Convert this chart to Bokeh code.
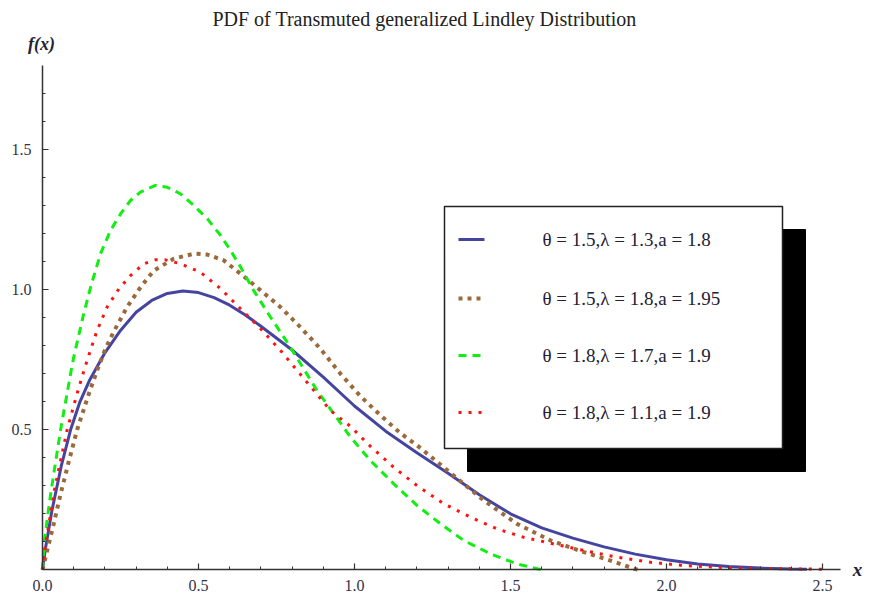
from bokeh.plotting import figure
from bokeh.models import Range1d, FixedTicker, Label
from bokeh.embed import file_html
from bokeh.resources import INLINE

# ---------------- data ----------------
blue_x = [0, 0.01, 0.03, 0.06, 0.09, 0.12, 0.15, 0.2, 0.25, 0.3, 0.35, 0.4, 0.45, 0.5, 0.55,
          0.6, 0.65, 0.7, 0.8, 0.9, 1.0, 1.1, 1.2, 1.3, 1.4, 1.5, 1.6, 1.7, 1.8, 1.9, 2.0,
          2.1, 2.2, 2.3, 2.4, 2.45]
blue_y = [0, 0.08, 0.21, 0.37, 0.5, 0.6, 0.675, 0.775, 0.855, 0.92, 0.962, 0.987, 0.996, 0.99,
          0.972, 0.945, 0.91, 0.87, 0.785, 0.688, 0.585, 0.495, 0.418, 0.345, 0.268, 0.2, 0.15,
          0.113, 0.082, 0.056, 0.036, 0.021, 0.012, 0.006, 0.003, 0.002]

brown_x = [0, 0.015, 0.036, 0.058, 0.085, 0.111, 0.148, 0.175, 0.202, 0.228, 0.271, 0.314, 0.357,
           0.421, 0.485, 0.528, 0.581, 0.635, 0.699, 0.763, 0.827, 0.891, 0.955, 1.019, 1.083,
           1.147, 1.2, 1.308, 1.414, 1.521, 1.628, 1.735, 1.821, 1.895, 1.91]
brown_y = [0, 0.069, 0.164, 0.271, 0.39, 0.5, 0.627, 0.712, 0.79, 0.85, 0.938, 1.009, 1.069,
           1.111, 1.129, 1.126, 1.105, 1.057, 0.998, 0.938, 0.866, 0.789, 0.70, 0.62, 0.552,
           0.488, 0.445, 0.346, 0.248, 0.164, 0.105, 0.063, 0.033, 0.004, 0]

green_x = [0, 0.005, 0.015, 0.026, 0.042, 0.058, 0.074, 0.09, 0.1, 0.132, 0.154, 0.186, 0.218,
           0.25, 0.282, 0.314, 0.362, 0.40, 0.442, 0.485, 0.528, 0.571, 0.603, 0.635, 0.677,
           0.731, 0.784, 0.827, 0.88, 0.934, 0.987, 1.051, 1.126, 1.2, 1.276, 1.35, 1.436,
           1.521, 1.585, 1.6]
green_y = [0, 0.09, 0.18, 0.27, 0.385, 0.5, 0.6, 0.70, 0.759, 0.914, 1.009, 1.129, 1.212,
           1.271, 1.319, 1.349, 1.373, 1.366, 1.343, 1.301, 1.254, 1.194, 1.14, 1.081, 0.997,
           0.902, 0.813, 0.736, 0.64, 0.557, 0.474, 0.39, 0.307, 0.23, 0.164, 0.105, 0.057,
           0.021, 0.004, 0]

red_x = [0, 0.01, 0.026, 0.038, 0.058, 0.079, 0.106, 0.127, 0.148, 0.175, 0.207, 0.245, 0.282,
         0.325, 0.362, 0.394, 0.442, 0.506, 0.571, 0.635, 0.699, 0.763, 0.816, 0.87, 0.923,
         0.987, 1.051, 1.126, 1.2, 1.286, 1.372, 1.458, 1.543, 1.628, 1.735, 1.842, 1.949,
         2.055, 2.162, 2.27, 2.375, 2.5]
red_y = [0, 0.093, 0.2, 0.283, 0.39, 0.5, 0.61, 0.69, 0.765, 0.855, 0.938, 1.004, 1.051,
         1.093, 1.107, 1.107, 1.093, 1.063, 1.004, 0.932, 0.861, 0.783, 0.712, 0.64, 0.569,
         0.512, 0.441, 0.366, 0.301, 0.236, 0.188, 0.146, 0.116, 0.095, 0.069, 0.045, 0.027,
         0.015, 0.009, 0.006, 0.004, 0.002]

legend_labels = ["\u03b8 = 1.5,\u03bb = 1.3,a = 1.8",
                 "\u03b8 = 1.5,\u03bb = 1.8,a = 1.95",
                 "\u03b8 = 1.8,\u03bb = 1.7,a = 1.9",
                 "\u03b8 = 1.8,\u03bb = 1.1,a = 1.9"]
x_ticks = [0.0, 0.5, 1.0, 1.5, 2.0, 2.5]
y_ticks = [0.5, 1.0, 1.5]
title_text = "PDF of Transmuted generalized Lindley Distribution"

# ---------------- layout helpers (page pixels -> data) ----------------
W, H = 869, 601
X0, Y0, SX, SY = 42.0, 569.3, 312.0, 280.0
XMAX = (840 - X0) / SX
YMAX = (Y0 - 65) / SY


def dx(px):
    return (px - X0) / SX


def dy(py):
    return (Y0 - py) / SY


p = figure(width=W, height=H, output_backend="svg", toolbar_location=None,
           x_range=Range1d(dx(0), dx(W)), y_range=Range1d(dy(H), dy(0)))
p.title.visible = False
p.min_border = 0
p.min_border_left = 0
p.min_border_right = 0
p.min_border_top = 0
p.min_border_bottom = 0
p.outline_line_color = None
p.xgrid.visible = False
p.ygrid.visible = False
p.background_fill_color = "white"
p.border_fill_color = "white"

minor_x = [round(0.1 * i, 2) for i in range(0, 26)]
minor_y = [round(0.1 * i, 2) for i in range(0, 18)]
p.xaxis.ticker = FixedTicker(ticks=x_ticks, minor_ticks=minor_x)
p.yaxis.ticker = FixedTicker(ticks=y_ticks, minor_ticks=minor_y)
p.xaxis.fixed_location = 0
p.yaxis.fixed_location = 0
p.xaxis.bounds = (0, XMAX)
p.yaxis.bounds = (0, YMAX)
for ax in (p.xaxis, p.yaxis):
    ax.axis_line_color = "#333333"
    ax.axis_line_width = 1.5
    ax.major_tick_line_color = "#333333"
    ax.minor_tick_line_color = "#333333"
    ax.major_tick_line_width = 1.2
    ax.minor_tick_line_width = 1
    ax.major_tick_in = 6
    ax.major_tick_out = 0
    ax.minor_tick_in = 3
    ax.minor_tick_out = 0
    ax.major_label_text_font = "Liberation Serif"
    ax.major_label_text_font_size = "16px"
    ax.major_label_text_color = "#333344"
p.xaxis.major_label_standoff = 10
p.yaxis.major_label_standoff = 11
p.xaxis.major_label_overrides = {t: f"{t:.1f}" for t in x_ticks}
p.yaxis.major_label_overrides = {t: f"{t:.1f}" for t in y_ticks}

# ---------------- curves ----------------
c_blue, c_brown, c_green, c_red = "#45459f", "#9b6a3a", "#11ee11", "#ff1111"
p.line(blue_x, blue_y, line_color=c_blue, line_width=3)
p.line(brown_x, brown_y, line_color=c_brown, line_width=4, line_dash="4 5")
p.line(green_x, green_y, line_color=c_green, line_width=3, line_dash="8 6")
p.line(red_x, red_y, line_color=c_red, line_width=3, line_dash="3 7")

# ---------------- legend (drawn by hand, with drop shadow) ----------------
p.quad(left=[dx(467)], right=[dx(805)], top=[dy(229)], bottom=[dy(471)],
       fill_color="black", line_color="black")
p.quad(left=[dx(444)], right=[dx(782)], top=[dy(206)], bottom=[dy(448)],
       fill_color="white", line_color="#222222", line_width=1.5)
row_py = [239, 298, 355, 412]
styles = [(c_blue, 3, "solid"), (c_brown, 4, "4 5"), (c_green, 3, "8 6"), (c_red, 3, "3 7")]
for py, (col, lw, dash), lab in zip(row_py, styles, legend_labels):
    p.line([dx(458), dx(484)], [dy(py), dy(py)], line_color=col, line_width=lw, line_dash=dash)
    p.add_layout(Label(x=dx(542), y=dy(py), text=lab, text_font="Liberation Serif",
                       text_font_size="19px", text_baseline="middle", text_align="left",
                       text_color="#222233"))

# ---------------- texts ----------------
p.add_layout(Label(x=dx(424), y=dy(18), text=title_text, text_font="Liberation Serif",
                   text_font_size="20px", text_align="center", text_baseline="middle",
                   text_color="#222222"))
p.add_layout(Label(x=dx(41), y=dy(43), text="f(x)", text_font="Liberation Serif",
                   text_font_size="18px", text_font_style="bold italic", text_align="center",
                   text_baseline="middle", text_color="#222233"))
p.add_layout(Label(x=dx(857), y=dy(569), text="x", text_font="Liberation Serif",
                   text_font_size="19px", text_font_style="bold italic", text_align="center",
                   text_baseline="middle", text_color="#222233"))

open("out.html", "w").write(file_html(p, INLINE))
